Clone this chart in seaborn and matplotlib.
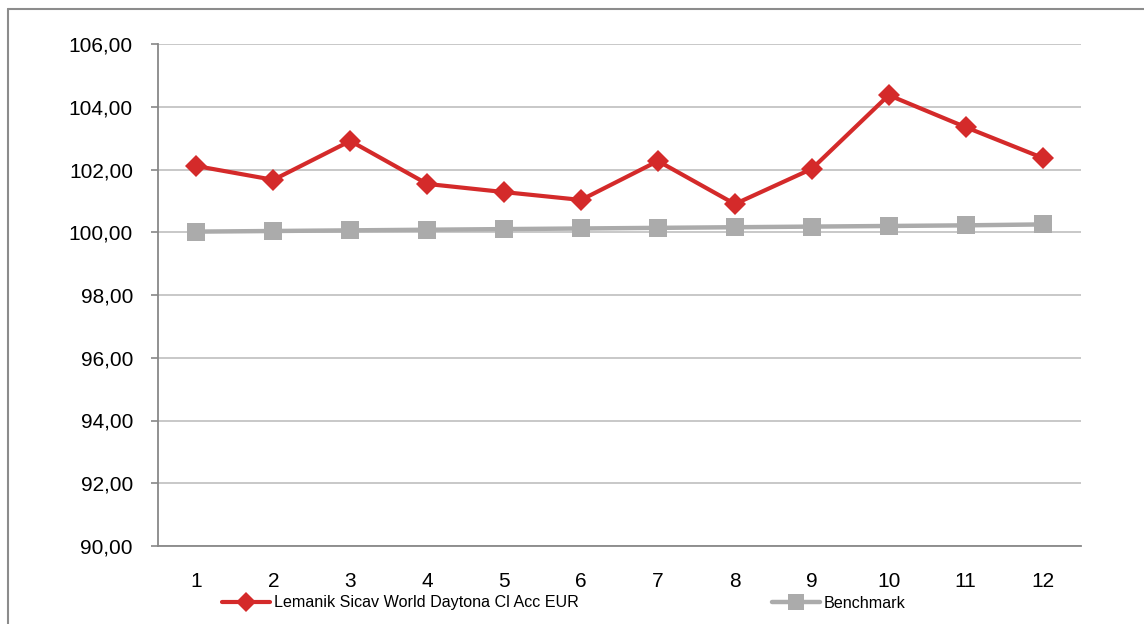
import matplotlib
matplotlib.use("Agg")
import matplotlib.pyplot as plt
import seaborn as sns
import pandas as pd
from matplotlib.lines import Line2D

periods = [1, 2, 3, 4, 5, 6, 7, 8, 9, 10, 11, 12]
fund_name = "Lemanik Sicav World Daytona Cl Acc EUR"
bench_name = "Benchmark"
fund_values = [102.11, 101.67, 102.91, 101.54, 101.28, 101.03, 102.27, 100.90, 102.02, 104.37, 103.35, 102.37]
bench_values = [100.02, 100.04, 100.06, 100.08, 100.10, 100.12, 100.14, 100.16, 100.18, 100.20, 100.22, 100.25]
y_ticks = [90, 92, 94, 96, 98, 100, 102, 104, 106]

df = pd.DataFrame({
    "period": periods * 2,
    "value": fund_values + bench_values,
    "series": [fund_name] * len(periods) + [bench_name] * len(periods),
})

sns.set_theme(style="white")
plt.rcParams['font.family'] = ['Liberation Sans', 'DejaVu Sans']

fig = plt.figure(figsize=(11.44, 6.24), dpi=100)
ax = fig.add_axes([158/1144, 1-546/624, (1081-158)/1144, (546-44)/624])

red = "#d42a2a"
grey = "#ababab"

sns.lineplot(data=df[df.series == bench_name], x="period", y="value", ax=ax,
             color=grey, linewidth=3.2, marker="s", markersize=13,
             markeredgewidth=0, legend=False)
sns.lineplot(data=df[df.series == fund_name], x="period", y="value", ax=ax,
             color=red, linewidth=3.0, marker="D", markersize=11,
             markeredgewidth=0, legend=False)

ax.set_xlim(0.5, 12.5)
ax.set_ylim(90, 106)
ax.set_yticks(y_ticks)
ax.set_yticklabels([f"{v:.2f}".replace(".", ",") for v in y_ticks], fontsize=15, color="black")
ax.set_xticks(periods)
ax.set_xticklabels([str(p) for p in periods], fontsize=15, color="black")
ax.set_xticks([p + 0.5 for p in [0] + periods], minor=True)
ax.tick_params(axis="x", which="major", length=0, pad=19)
ax.tick_params(axis="x", which="minor", length=5, width=1.2, color="#888888", direction="out")
ax.tick_params(axis="y", which="major", length=5, width=1.2, color="#888888", direction="out", pad=13, left=True)
ax.set_xlabel("")
ax.set_ylabel("")

ax.yaxis.grid(True, color="#c4c4c4", linewidth=1.3)
ax.set_axisbelow(True)
for s in ["top", "right"]:
    ax.spines[s].set_visible(False)
for s in ["left", "bottom"]:
    ax.spines[s].set_color("#888888")
    ax.spines[s].set_linewidth(1.3)

handles = [
    Line2D([0], [0], color=red, linewidth=3.0, marker="D", markersize=10, markeredgewidth=0),
    Line2D([0], [0], color=grey, linewidth=3.2, marker="s", markersize=12, markeredgewidth=0),
]
leg = fig.legend(handles, [fund_name, bench_name], loc="center left",
                 bbox_to_anchor=(222/1144, 1-603/624), ncol=2, frameon=False,
                 fontsize=11.6, handlelength=3.0, handletextpad=0.2,
                 columnspacing=12.0, borderpad=0, borderaxespad=0)
for t in leg.get_texts():
    t.set_color("black")

# outer chart frame (clipped by the image edge on the right and bottom)
fig.add_artist(Line2D([8/1144, 1.0], [1-9/624, 1-9/624], transform=fig.transFigure,
                      color="#8c8c8c", linewidth=1.5))
fig.add_artist(Line2D([8/1144, 8/1144], [1-9/624, 0.0], transform=fig.transFigure,
                      color="#8c8c8c", linewidth=1.5))

fig.savefig("out.png", dpi=100)
